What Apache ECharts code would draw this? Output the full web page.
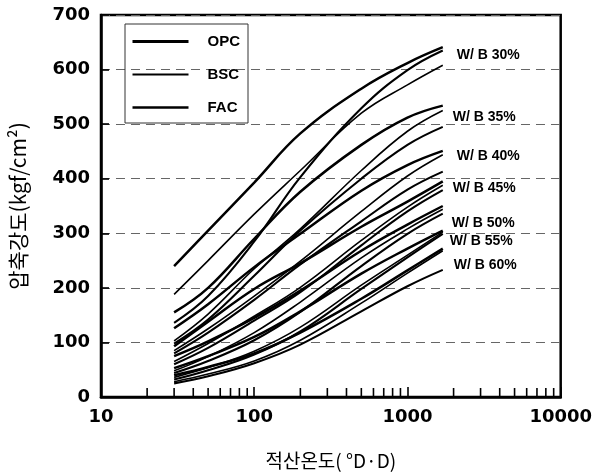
<!DOCTYPE html>
<html>
<head>
<meta charset="utf-8">
<script src="https://cdn.jsdelivr.net/npm/echarts@6/dist/echarts.min.js"></script>
<style>
  html, body { margin: 0; padding: 0; background: #fff; }
  #chart { width: 595px; height: 475px; }
</style>
</head>
<body>
<div id="chart"></div>
<script>
// 적산온도 측정 지점 (°D·D)
var maturity = [30, 50, 100, 200, 500, 1000, 1700];

// 압축강도 (kgf/cm2), W/B 별 / 시멘트 종류 별
var opc30 = [240, 305, 393, 483, 565, 612, 641];
var bsc30 = [188, 250, 335, 415, 520, 572, 608];
var fac30 = [136, 185, 285, 403, 529, 599, 635];
var opc35 = [155, 200, 290, 376, 462, 512, 534];
var bsc35 = [103, 152, 235, 308, 415, 487, 525];
var fac35 = [98, 142, 222, 305, 400, 462, 495];
var opc40 = [126, 170, 238, 299, 378, 425, 451];
var bsc40 = [85, 125, 185, 249, 340, 405, 444];
var fac40 = [80, 118, 178, 243, 322, 380, 413];
var opc45 = [93, 138, 198, 245, 312, 358, 395];
var bsc45 = [65, 98, 148, 201, 287, 348, 388];
var fac45 = [60, 90, 140, 192, 278, 340, 379];
var opc50 = [75, 102, 145, 195, 268, 316, 350];
var bsc50 = [48, 74, 118, 174, 255, 308, 344];
var fac50 = [44, 66, 104, 156, 240, 299, 336];
var opc55 = [53, 75, 110, 157, 226, 272, 305];
var bsc55 = [36, 54, 84, 128, 205, 260, 302];
var fac55 = [32, 49, 78, 120, 198, 256, 299];
var opc60 = [40, 55, 80, 118, 180, 232, 272];
var bsc60 = [28, 42, 66, 104, 172, 227, 268];
var fac60 = [25, 38, 62, 96, 157, 203, 233];

var wbLabels = ['W/ B 30%', 'W/ B 35%', 'W/ B 40%', 'W/ B 45%', 'W/ B 50%', 'W/ B 55%', 'W/ B 60%'];
var cementTypes = ['OPC', 'BSC', 'FAC'];
var yTicks = [0, 100, 200, 300, 400, 500, 600, 700];
var minorTicks = [20, 30, 40, 50, 60, 70, 80, 90,
                  200, 300, 400, 500, 600, 700, 800, 900,
                  2000, 3000, 4000, 5000, 6000, 7000, 8000, 9000];

var groups = [
  [opc30, bsc30, fac30],
  [opc35, bsc35, fac35],
  [opc40, bsc40, fac40],
  [opc45, bsc45, fac45],
  [opc50, bsc50, fac50],
  [opc55, bsc55, fac55],
  [opc60, bsc60, fac60]
];

// 선 굵기 (OPC 굵게, BSC 가늘게)
var lineWidths = { OPC: 2.5, BSC: 1.6, FAC: 2.1 };
// 라벨 위치 보정
var labelOffsets = [[6, 8], [2, 12], [6, 5], [2, 7], [1, 17], [-1, 11], [3, 17]];

var boldFont = 'Liberation Sans, Arial, sans-serif';
var numFont = 'DejaVu Sans, sans-serif';
var korFont = 'Noto Sans CJK KR, sans-serif';

function pairs(values) {
  return maturity.map(function (x, i) { return [x, values[i]]; });
}

var series = [];
groups.forEach(function (g, gi) {
  g.forEach(function (values, ti) {
    var type = cementTypes[ti];
    var s = {
      name: type,
      type: 'line',
      data: pairs(values),
      smooth: 0.4,
      symbol: 'none',
      lineStyle: { color: '#000', width: lineWidths[type] },
      itemStyle: { color: '#000' },
      z: 4
    };
    if (ti === 0) {
      s.endLabel = {
        show: true,
        formatter: wbLabels[gi],
        offset: labelOffsets[gi],
        color: '#000',
        fontFamily: boldFont,
        fontWeight: 'bold',
        fontSize: 14
      };
    }
    series.push(s);
  });
});

// 로그축 보조 눈금
series.push({
  name: 'minor',
  type: 'custom',
  data: minorTicks.map(function (v) { return [v, 0]; }),
  silent: true,
  z: 5,
  renderItem: function (params, api) {
    var p = api.coord([api.value(0), 0]);
    return {
      type: 'line',
      shape: { x1: p[0], y1: p[1], x2: p[0], y2: p[1] - 9 },
      style: { stroke: '#000', lineWidth: 1.6 }
    };
  }
});

var chart = echarts.init(document.getElementById('chart'));
chart.setOption({
  animation: false,
  backgroundColor: '#fff',
  grid: {
    left: 97, right: 32, top: 15, bottom: 67,
    show: true, borderColor: '#000', borderWidth: 2.5
  },
  legend: {
    data: cementTypes.map(function (t) {
      return {
        name: t,
        itemStyle: { opacity: 0 },
        lineStyle: { width: lineWidths[t] + 0.5, color: '#000' }
      };
    }),
    orient: 'vertical',
    left: 125, top: 24,
    itemWidth: 56, itemHeight: 14, itemGap: 18,
    padding: [10, 8, 8, 6],
    borderColor: '#333', borderWidth: 1,
    textStyle: {
      color: '#000', fontFamily: boldFont, fontWeight: 'bold', fontSize: 15,
      padding: [0, 0, 0, 14]
    }
  },
  xAxis: {
    type: 'log',
    logBase: 10,
    min: 10,
    max: 10000,
    name: '적산온도( °D·D)',
    nameLocation: 'middle',
    nameGap: 54,
    nameTextStyle: { fontFamily: korFont, fontSize: 19, color: '#000' },
    axisLine: { lineStyle: { color: '#000', width: 2.5 } },
    axisTick: { inside: true, length: 10, lineStyle: { color: '#000', width: 1.6 } },
    axisLabel: {
      margin: 11, color: '#000', fontFamily: numFont,
      fontWeight: 'bold', fontSize: 18,
      formatter: function (v) { return String(v); }
    },
    splitLine: { show: false }
  },
  yAxis: {
    type: 'value',
    min: yTicks[0],
    max: yTicks[yTicks.length - 1],
    interval: 100,
    name: '압축강도(kgf/cm²)',
    nameLocation: 'middle',
    nameGap: 72,
    nameTextStyle: { fontFamily: korFont, fontSize: 21, color: '#000' },
    axisLine: { show: true, lineStyle: { color: '#000', width: 2.5 } },
    axisTick: { show: true, inside: true, length: 8, lineStyle: { color: '#000', width: 1.6 } },
    axisLabel: {
      margin: 11, color: '#000', fontFamily: numFont,
      fontWeight: 'bold', fontSize: 18
    },
    splitLine: { show: true, lineStyle: { color: '#666', width: 1, type: [9, 6] } }
  },
  series: series
});
</script>
</body>
</html>
